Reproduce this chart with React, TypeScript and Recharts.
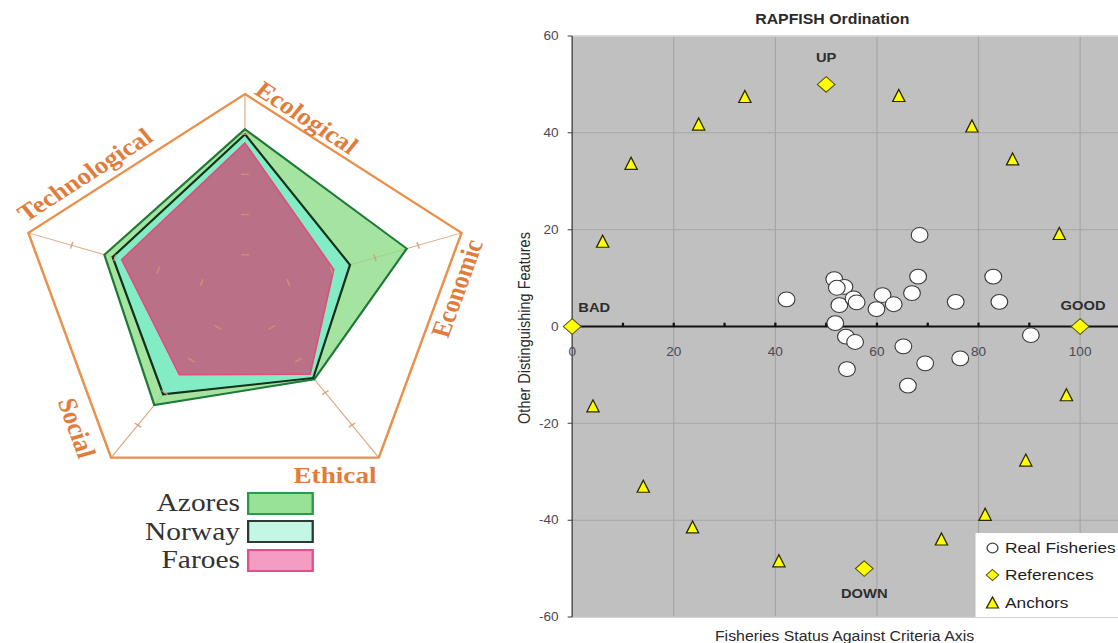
import React from 'react';
import {
  RadarChart, Radar, PolarGrid, PolarAngleAxis, PolarRadiusAxis, Legend,
  ScatterChart, Scatter, XAxis, YAxis, CartesianGrid, ReferenceLine, ReferenceDot,
} from 'recharts';

// ---------- data: radar ----------
const dimensions = ['Ecological', 'Economic', 'Ethical', 'Social', 'Technological'];
const azoresScores = [0.825, 0.747, 0.518, 0.677, 0.649];
const norwayScores = [0.8, 0.485, 0.51, 0.611, 0.611];
const faroesScores = [0.756, 0.41, 0.487, 0.49, 0.569];
const countryNames = ['Azores', 'Norway', 'Faroes'];
const spokeTickValues = [0.2, 0.4, 0.6, 0.8];

// ---------- data: scatter ----------
const realFisheries = [
  { x: 42.2, y: 5.6 }, { x: 51.6, y: 9.8 }, { x: 53.6, y: 8.2 }, { x: 52.1, y: 8.0 },
  { x: 52.6, y: 4.4 }, { x: 55.4, y: 5.8 }, { x: 56.0, y: 5.0 }, { x: 51.8, y: 0.7 },
  { x: 61.1, y: 6.5 }, { x: 59.9, y: 3.6 }, { x: 63.3, y: 4.6 }, { x: 66.9, y: 6.9 },
  { x: 68.1, y: 10.3 }, { x: 68.4, y: 18.9 }, { x: 75.5, y: 5.1 }, { x: 82.9, y: 10.3 },
  { x: 84.1, y: 5.1 }, { x: 53.9, y: -2.1 }, { x: 55.7, y: -3.2 }, { x: 54.1, y: -8.8 },
  { x: 65.2, y: -4.1 }, { x: 69.5, y: -7.6 }, { x: 76.4, y: -6.6 }, { x: 66.1, y: -12.2 },
  { x: 90.3, y: -1.8 },
];
const anchors = [
  { x: 6.0, y: 17.4 }, { x: 11.6, y: 33.5 }, { x: 24.9, y: 41.6 }, { x: 34.0, y: 47.3 },
  { x: 64.3, y: 47.5 }, { x: 78.7, y: 41.2 }, { x: 86.7, y: 34.4 }, { x: 95.9, y: 19.0 },
  { x: 4.1, y: -16.6 }, { x: 14.0, y: -33.2 }, { x: 23.7, y: -41.6 }, { x: 40.7, y: -48.6 },
  { x: 72.7, y: -44.1 }, { x: 81.3, y: -39.0 }, { x: 89.3, y: -27.8 }, { x: 97.3, y: -14.3 },
];
const references = [
  { x: 0, y: 0, name: 'BAD' },
  { x: 100, y: 0, name: 'GOOD' },
  { x: 50, y: 50, name: 'UP' },
  { x: 57.5, y: -50, name: 'DOWN' },
];
const yTicks = [-60, -40, -20, 0, 20, 40, 60];
const xGridTicks = [0, 20, 40, 60, 80, 100, 120];
const xAxisLabels = [0, 20, 40, 60, 80, 100];
const xMinorTicks = [10, 20, 30, 40, 50, 60, 70, 80, 90, 100, 110];
const seriesNames = ['Real Fisheries', 'References', 'Anchors'];

// ---------- styling / geometry ----------
const STRETCH = 1.133;
const RCX = 216.2;
const RCY = 295;
const RR = 201;
const spokeAngles = [90, 18, -54, -126, 162];
const ORANGE = '#e07d3c';

const angleLabelStyle: Record<string, { dx: number; dy: number; rot: number }> = {
  Ecological: { dx: 54.5, dy: -177.3, rot: 36 },
  Economic: { dx: 187.2, dy: -6.5, rot: -72 },
  Ethical: { dx: 79.5, dy: 180, rot: 0 },
  Social: { dx: -148.5, dy: 133, rot: 72 },
  Technological: { dx: -141.2, dy: -120, rot: -36 },
};

const swatchStyle: Record<string, { fill: string; stroke: string }> = {
  Azores: { fill: '#96e296', stroke: '#2a9a48' },
  Norway: { fill: '#c4f6e6', stroke: '#2b3b32' },
  Faroes: { fill: '#f59cc2', stroke: '#e2508c' },
};

const refLabelOffsets: Record<string, [number, number]> = {
  UP: [0, -27],
  BAD: [19.5, -19.5],
  GOOD: [2.6, -21],
  DOWN: [0, 25],
};

const radarData = dimensions.map((d, i) => {
  const row: Record<string, any> = {
    axis: d,
    azores: azoresScores[i],
    norway: norwayScores[i],
    faroes: faroesScores[i],
  };
  spokeTickValues.forEach((t, k) => {
    row[`tick${k}`] = t;
  });
  return row;
});

const renderAngleTick = (props: any) => {
  const name = props?.payload?.value;
  const s = angleLabelStyle[name];
  if (!s) return <g />;
  const x = RCX + s.dx;
  const y = RCY + s.dy;
  return (
    <text
      x={x}
      y={y}
      transform={`rotate(${s.rot} ${x} ${y})`}
      textAnchor="middle"
      dominantBaseline="central"
      fontFamily="'Liberation Serif', 'DejaVu Serif', serif"
      fontWeight="bold"
      fontSize={24}
      fill={ORANGE}
    >
      {name}
    </text>
  );
};

// perpendicular tick mark on a spoke, drawn at each vertex of a constant "tick ring"
const renderSpokeTick = (props: any) => {
  const { cx, cy, index } = props;
  if (cx == null || cy == null) return <g key={`k${index}`} />;
  const ang = spokeAngles[index % spokeAngles.length];
  const rad = (ang * Math.PI) / 180;
  const px = Math.sin(rad) * 3.5;
  const py = Math.cos(rad) * 3.5;
  return (
    <line
      key={`k${index}`}
      x1={cx - px}
      y1={cy - py}
      x2={cx + px}
      y2={cy + py}
      stroke="#d8946a"
      strokeOpacity={0.85}
      strokeWidth={1.3}
    />
  );
};

const renderRadarLegend = () => (
  <div style={{ display: 'flex', flexDirection: 'column' }}>
    {countryNames.map((n) => (
      <div key={n} style={{ display: 'flex', alignItems: 'center', height: 28.5 }}>
        <span
          style={{
            width: 120,
            textAlign: 'right',
            fontFamily: "'Liberation Serif', serif",
            fontSize: 26,
            lineHeight: '28.5px',
            color: '#333',
          }}
        >
          {n}
        </span>
        <span
          style={{
            marginLeft: 6,
            width: 58.8,
            height: 23,
            boxSizing: 'border-box',
            background: swatchStyle[n].fill,
            border: `2px solid ${swatchStyle[n].stroke}`,
          }}
        />
      </div>
    ))}
  </div>
);

// ---------- scatter shapes ----------
const CircleShape = (p: any) => (
  <circle cx={p.cx} cy={p.cy} r={7.4} fill="#ffffff" stroke="#3a3a3a" strokeWidth={1} />
);
const DiamondShape = (p: any) => (
  <path
    d={`M${p.cx},${p.cy - 7.8}L${p.cx + 7.8},${p.cy}L${p.cx},${p.cy + 7.8}L${p.cx - 7.8},${p.cy}Z`}
    fill="#ffff00"
    stroke="#55550a"
    strokeWidth={1}
  />
);
const TriangleShape = (p: any) => (
  <path
    d={`M${p.cx},${p.cy - 7}L${p.cx + 5.4},${p.cy + 5}L${p.cx - 5.4},${p.cy + 5}Z`}
    fill="#ffff00"
    stroke="#2a2a00"
    strokeWidth={1.2}
  />
);

const legendMarker = (name: string) => {
  if (name === 'Real Fisheries')
    return <circle cx={7} cy={7} r={4.8} fill="#fff" stroke="#444" strokeWidth={1.2} />;
  if (name === 'References')
    return <path d="M7,1.5L12.5,7L7,12.5L1.5,7Z" fill="#ffff00" stroke="#55550a" strokeWidth={1} />;
  return <path d="M7,1L12.3,12L1.7,12Z" fill="#ffff00" stroke="#2a2a00" strokeWidth={1.2} />;
};

const renderScatterLegend = () => (
  <div
    style={{
      background: '#ffffff',
      width: 200,
      height: 84.3,
      boxSizing: 'border-box',
      paddingTop: 1.5,
    }}
  >
    {seriesNames.map((n) => (
      <div key={n} style={{ display: 'flex', alignItems: 'center', height: 27.5 }}>
        <svg width={14} height={14} style={{ marginLeft: 8, flex: 'none' }}>
          {legendMarker(n)}
        </svg>
        <span
          style={{
            marginLeft: 4.4,
            fontFamily: "'Liberation Sans', Arial, sans-serif",
            fontSize: 15.3,
            color: '#1e1e1e',
            whiteSpace: 'nowrap',
          }}
        >
          {n}
        </span>
      </div>
    ))}
  </div>
);

const makeRefLabel = (name: string) => (props: any) => {
  const vb = props.viewBox || {};
  const cx = (vb.x ?? 0) + (vb.width ?? 0) / 2;
  const cy = (vb.y ?? 0) + (vb.height ?? 0) / 2;
  const [dx, dy] = refLabelOffsets[name];
  return (
    <text
      x={cx + dx}
      y={cy + dy}
      textAnchor="middle"
      dominantBaseline="central"
      fontFamily="'Liberation Sans', Arial, sans-serif"
      fontWeight="bold"
      fontSize={13}
      fill="#2e2e2e"
    >
      {name}
    </text>
  );
};

const makeAxisLabel = (v: number) => (props: any) => {
  const vb = props.viewBox || {};
  const cx = (vb.x ?? 0) + (vb.width ?? 0) / 2;
  const cy = (vb.y ?? 0) + (vb.height ?? 0) / 2;
  return (
    <text
      x={cx}
      y={cy + 25}
      textAnchor="middle"
      dominantBaseline="central"
      fontFamily="'Liberation Sans', Arial, sans-serif"
      fontSize={12}
      fill="#4a4a58"
    >
      {v}
    </text>
  );
};

const textFont = "'Liberation Sans', Arial, sans-serif";

export default function App() {
  return (
    <div
      style={{
        position: 'absolute',
        left: 0,
        top: 0,
        width: 1118,
        height: 643,
        overflow: 'hidden',
        background: '#ffffff',
      }}
    >
      <div
        style={{
          position: 'absolute',
          left: 0,
          top: 0,
          width: 1118 / STRETCH,
          height: 643,
          transform: `scaleX(${STRETCH})`,
          transformOrigin: '0 0',
        }}
      >
        {/* Radar chart */}
        <div style={{ position: 'absolute', left: 0, top: 0 }}>
          <RadarChart
            width={440}
            height={600}
            cx={RCX}
            cy={RCY}
            outerRadius={RR}
            data={radarData}
            margin={{ top: 0, right: 0, bottom: 0, left: 0 }}
          >
            <PolarGrid gridType="polygon" polarRadius={[RR]} radialLines stroke="#dca67f" strokeWidth={1} />
            <PolarGrid gridType="polygon" polarRadius={[RR]} radialLines={false} stroke="#e8904c" strokeWidth={2.2} />
            <PolarAngleAxis dataKey="axis" tick={renderAngleTick} axisLine={false} tickLine={false} />
            <PolarRadiusAxis angle={90} domain={[0, 1]} axisLine={false} tick={false} />
            {spokeTickValues.map((t, k) => (
              <Radar
                key={`ring${k}`}
                dataKey={`tick${k}`}
                legendType="none"
                fill="none"
                stroke="none"
                dot={renderSpokeTick}
                isAnimationActive={false}
              />
            ))}
            <Radar
              name="Azores"
              dataKey="azores"
              fill="#8edd88"
              fillOpacity={0.8}
              stroke="#1f7a38"
              strokeWidth={2}
              isAnimationActive={false}
            />
            <Radar
              name="Norway"
              dataKey="norway"
              fill="#7eedc9"
              fillOpacity={0.9}
              stroke="#12301c"
              strokeWidth={2}
              isAnimationActive={false}
            />
            <Radar
              name="Faroes"
              dataKey="faroes"
              fill="#c45a7d"
              fillOpacity={0.85}
              stroke="#e04c80"
              strokeWidth={1.5}
              isAnimationActive={false}
            />
            <Legend
              layout="vertical"
              align="center"
              verticalAlign="middle"
              content={renderRadarLegend}
              wrapperStyle={{ position: 'absolute', left: 91.8, top: 489, width: 190, height: 86 }}
            />
          </RadarChart>
        </div>

        {/* Scatter chart */}
        <div style={{ position: 'absolute', left: 465, top: 0 }}>
          <ScatterChart width={578} height={643} margin={{ top: 36, right: 0, bottom: 26, left: 0 }}>
            <CartesianGrid fill="#c0c0c0" stroke="#a4a4a4" strokeWidth={1} />
            <XAxis type="number" dataKey="x" domain={[0, 120]} ticks={xGridTicks} hide />
            <YAxis
              type="number"
              dataKey="y"
              domain={[-60, 60]}
              ticks={yTicks}
              interval={0}
              width={40}
              axisLine={{ stroke: '#3c3c3c' }}
              tickLine={{ stroke: '#3c3c3c' }}
              tickSize={4}
              tickMargin={8}
              tick={{ fill: '#4a4a58', fontSize: 12, fontFamily: textFont }}
            />
            <ReferenceLine y={60} stroke="#dcdcdc" strokeWidth={1.5} />
            <ReferenceLine y={-60} stroke="#d4d4d4" strokeWidth={1} />
            <ReferenceLine y={0} stroke="#111111" strokeWidth={2} />
            {xMinorTicks.map((v) => (
              <ReferenceLine
                key={`t${v}`}
                segment={[{ x: v, y: 0 }, { x: v, y: 0.8 }]}
                stroke="#111111"
                strokeWidth={2}
              />
            ))}
            {xAxisLabels.map((v) => (
              <ReferenceDot
                key={`l${v}`}
                x={v}
                y={0}
                r={0.1}
                fill="none"
                stroke="none"
                label={{ content: makeAxisLabel(v) }}
              />
            ))}
            <Scatter name="Real Fisheries" data={realFisheries} shape={CircleShape} isAnimationActive={false} />
            <Scatter name="References" data={references} shape={DiamondShape} isAnimationActive={false} />
            <Scatter name="Anchors" data={anchors} shape={TriangleShape} isAnimationActive={false} />
            {references.map((r) => (
              <ReferenceDot
                key={`r${r.name}`}
                x={r.x}
                y={r.y}
                r={0.1}
                fill="none"
                stroke="none"
                label={{ content: makeRefLabel(r.name) }}
              />
            ))}
            <Legend
              layout="vertical"
              align="center"
              verticalAlign="middle"
              content={renderScatterLegend}
              wrapperStyle={{ position: 'absolute', left: 395.6, top: 532.7, width: 200, height: 84.3 }}
            />
          </ScatterChart>
        </div>

        {/* Scatter titles */}
        <div
          style={{
            position: 'absolute',
            left: 734.6 - 150,
            top: 10,
            width: 300,
            textAlign: 'center',
            fontFamily: textFont,
            fontWeight: 'bold',
            fontSize: 14,
            lineHeight: '18px',
            color: '#2a2a2a',
          }}
        >
          RAPFISH Ordination
        </div>
        <div
          style={{
            position: 'absolute',
            left: 745.4 - 200,
            top: 627,
            width: 400,
            textAlign: 'center',
            fontFamily: textFont,
            fontSize: 14,
            lineHeight: '18px',
            color: '#2a2a2a',
          }}
        >
          Fisheries Status Against Criteria Axis
        </div>
        <div
          style={{
            position: 'absolute',
            left: 463.4 - 150,
            top: 328 - 9,
            width: 300,
            height: 18,
            textAlign: 'center',
            fontFamily: textFont,
            fontSize: 14.5,
            lineHeight: '18px',
            color: '#2a2a2a',
            transform: 'rotate(-90deg)',
            transformOrigin: '50% 50%',
          }}
        >
          Other Distinguishing Features
        </div>
      </div>
    </div>
  );
}
